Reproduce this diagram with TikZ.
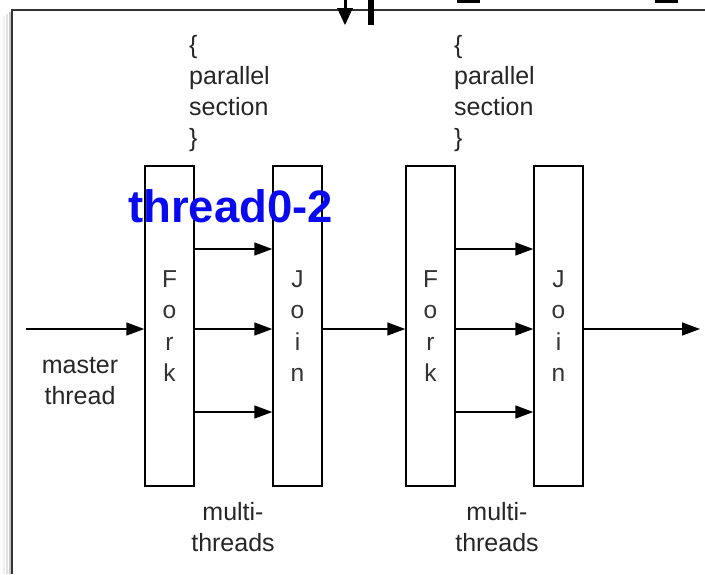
\documentclass[tikz,border=0pt]{standalone}
\usepackage{fontspec}
\setmainfont{Liberation Sans}
\usetikzlibrary{arrows.meta}
\begin{document}
\begin{tikzpicture}[x=1pt,y=-1pt,
  box/.style={draw, line width=1.5pt, minimum width=49pt, minimum height=320pt, inner sep=0pt,
    align=center, text=black!80, font=\fontsize{24.5}{31.5}\selectfont},
  lbl/.style={align=center, inner sep=0pt, text=black!85, font=\fontsize{25}{31}\selectfont},
  arr/.style={line width=1.5pt, -{Triangle[length=18pt,width=13pt]}},
  shadow/.style={line width=2pt}]
\useasboundingbox (0,0) rectangle (705,574);
% frame with soft shadow
\draw[shadow, black!6] (4,574) -- (4,16);
\draw[shadow, black!12] (7,574) -- (7,14);
\draw[shadow, black!22] (9.5,574) -- (9.5,12);
\draw[line width=1.5pt, black!80] (12,574) -- (12,10) -- (705,10);
% cropped marks at the top edge
\draw[line width=3pt] (345,0) -- (345,10);
\fill (337,8) -- (353,8) -- (345,25) -- cycle;
\fill (368,0) rectangle (374,25);
\fill (457,0) rectangle (480,2.5);
\fill (655,0) rectangle (678,2.5);
% boxes
\node[box] (f1) at (169.5,326) {F\\o\\r\\k};
\node[box] (j1) at (297.5,326) {J\\o\\i\\n};
\node[box] (f2) at (430.5,326) {F\\o\\r\\k};
\node[box] (j2) at (558.5,326) {J\\o\\i\\n};
% labels
\node[lbl, align=left, anchor=west] (p1) at (189,94) {\{\\parallel\\section\\\}};
\node[lbl, align=left, anchor=west] (p2) at (454,94) {\{\\parallel\\section\\\}};
\node[lbl] (m) at (80,381) {master\\thread};
\node[lbl] (mt1) at (233,527) {multi-\\threads};
\node[lbl] (mt2) at (497,527) {multi-\\threads};
\node[anchor=base, inner sep=0pt, text={rgb,255:red,10;green,10;blue,240},
  font=\fontsize{45.5}{50}\bfseries\selectfont] (t) at (230.5,222) {thread0-2};
% connectors
\coordinate (r1) at (0,249);
\coordinate (r2) at (0,329);
\coordinate (r3) at (0,412);
\coordinate (ms) at (26,329);
\coordinate (out) at (700,329);
\draw[arr] (ms) -- (f1.west |- r2);
\foreach \r in {r1,r2,r3} {
  \draw[arr] (f1.east |- \r) -- (j1.west |- \r);
  \draw[arr] (f2.east |- \r) -- (j2.west |- \r);
}
\draw[arr] (j1.east |- r2) -- (f2.west |- r2);
\draw[arr] (j2.east |- r2) -- (out);
\end{tikzpicture}
\end{document}
